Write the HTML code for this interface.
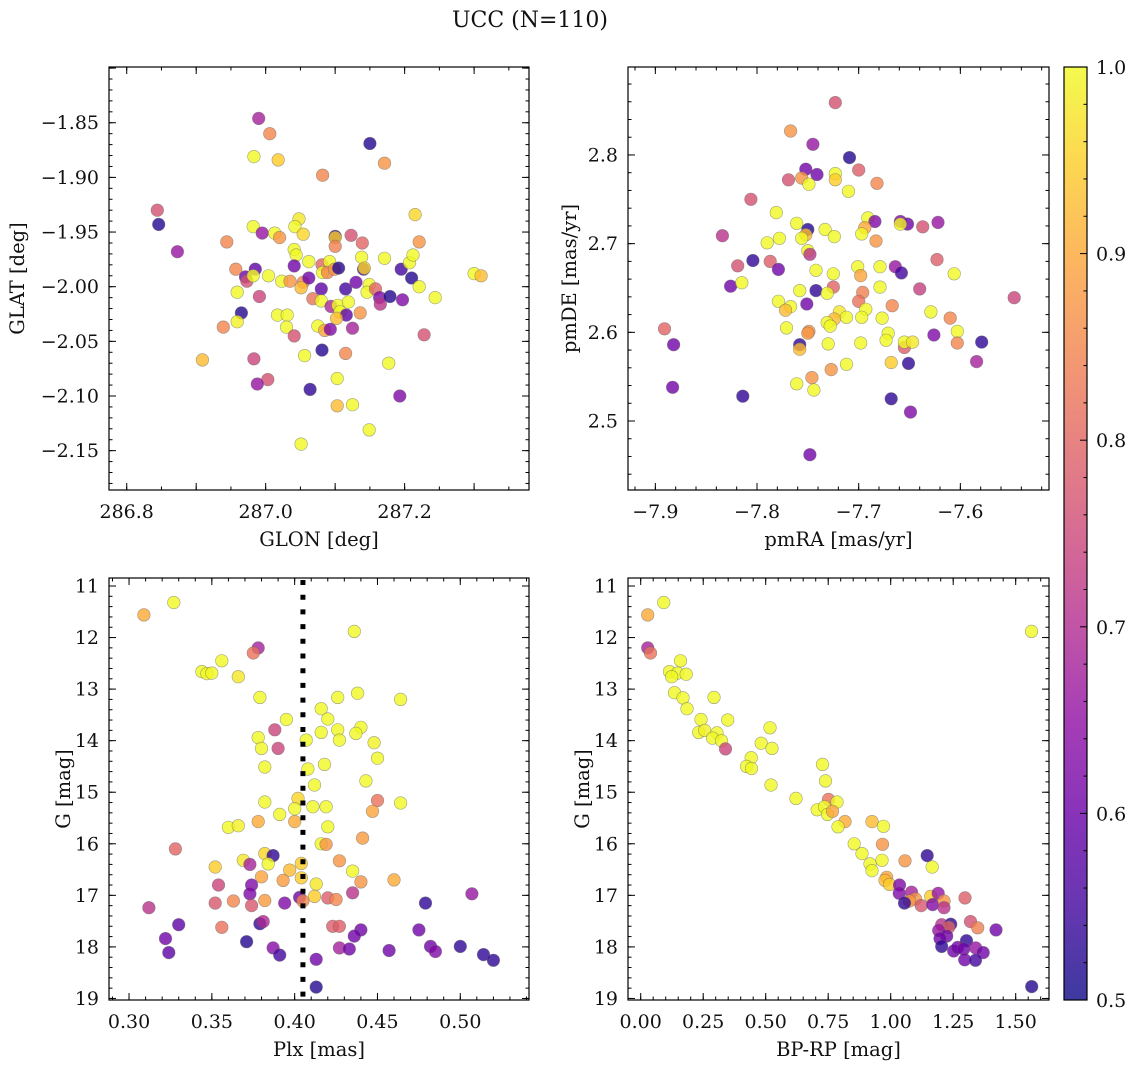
<!DOCTYPE html>
<html><head><meta charset="utf-8"><style>
html,body{margin:0;padding:0;background:#fff;}
svg{display:block;font-family:"DejaVu Serif","Liberation Serif",serif;}
</style></head><body>
<svg id="fig" xmlns="http://www.w3.org/2000/svg" width="1136" height="1067" viewBox="0 0 1136 1067">
<rect width="1136" height="1067" fill="#fff"/>
<text x="530" y="27" font-size="22" text-anchor="middle" fill="#111">UCC (N=110)</text>
</svg>
<script>
const tlGlon=[286.990,287.006,286.983,287.018,287.082,287.150,287.171,286.844,286.846,286.873,286.982,286.995,287.013,287.020,287.048,287.042,287.054,287.100,287.100,287.100,287.123,287.139,287.215,287.221,286.944,287.041,287.044,287.062,287.041,286.957,286.985,286.971,286.973,286.982,287.004,287.023,287.035,287.054,287.062,287.051,287.081,287.092,287.082,287.089,287.099,287.105,287.080,287.115,287.130,287.138,287.141,287.142,287.149,287.146,287.158,287.164,287.165,287.171,287.179,287.195,287.197,287.207,287.212,287.210,287.221,287.244,287.300,287.310,286.959,286.991,287.068,287.080,287.094,287.104,287.119,287.107,287.116,287.136,286.965,286.959,286.939,287.017,287.031,287.030,287.102,287.075,287.085,287.093,287.125,287.041,287.081,287.115,287.056,287.228,287.177,286.909,286.983,287.003,286.988,287.064,287.103,287.193,287.103,287.125,287.149,287.051];
const tlGlat=[-1.846,-1.860,-1.881,-1.884,-1.898,-1.869,-1.887,-1.930,-1.943,-1.968,-1.945,-1.951,-1.951,-1.955,-1.938,-1.945,-1.952,-1.954,-1.955,-1.963,-1.953,-1.960,-1.934,-1.959,-1.959,-1.966,-1.971,-1.977,-1.981,-1.984,-1.984,-1.991,-1.995,-1.990,-1.990,-1.995,-1.995,-1.996,-1.992,-2.001,-1.980,-1.977,-1.987,-1.987,-1.984,-1.983,-2.002,-2.002,-1.996,-1.973,-1.984,-1.983,-1.998,-2.005,-2.002,-2.010,-2.016,-1.974,-2.009,-1.984,-2.012,-1.978,-1.971,-1.992,-2.000,-2.010,-1.988,-1.990,-2.005,-2.009,-2.011,-2.013,-2.018,-2.017,-2.014,-2.023,-2.026,-2.024,-2.024,-2.032,-2.037,-2.026,-2.026,-2.037,-2.029,-2.036,-2.040,-2.039,-2.038,-2.045,-2.058,-2.061,-2.063,-2.044,-2.070,-2.067,-2.066,-2.085,-2.089,-2.094,-2.084,-2.100,-2.109,-2.108,-2.131,-2.144];
const tlProb=[.67,.83,.97,.92,.83,.52,.85,.75,.52,.65,.97,.65,.97,.85,.95,.97,.93,.52,.92,.82,.75,.78,.93,.85,.83,.97,.97,.97,.6,.83,.58,.6,.75,.97,.97,.97,.85,.83,.6,.9,.78,.97,.97,.83,.85,.52,.58,.55,.6,.97,.55,.93,.97,.97,.78,.62,.7,.97,.52,.55,.62,.97,.97,.52,.97,.97,.97,.9,.97,.73,.8,.97,.68,.97,.97,.97,.58,.85,.52,.96,.83,.97,.97,.97,.9,.97,.87,.62,.67,.75,.52,.83,.97,.75,.97,.9,.73,.75,.65,.53,.97,.62,.9,.97,.97,.97];

const trPmra=[-7.723,-7.767,-7.745,-7.709,-7.752,-7.741,-7.769,-7.756,-7.749,-7.723,-7.723,-7.700,-7.682,-7.710,-7.806,-7.781,-7.761,-7.750,-7.752,-7.756,-7.733,-7.724,-7.778,-7.790,-7.750,-7.748,-7.691,-7.684,-7.694,-7.697,-7.683,-7.659,-7.652,-7.659,-7.637,-7.622,-7.834,-7.804,-7.819,-7.787,-7.779,-7.826,-7.815,-7.742,-7.725,-7.701,-7.698,-7.679,-7.664,-7.658,-7.623,-7.606,-7.640,-7.547,-7.758,-7.742,-7.725,-7.731,-7.696,-7.700,-7.679,-7.779,-7.767,-7.751,-7.772,-7.693,-7.697,-7.719,-7.724,-7.712,-7.731,-7.728,-7.771,-7.749,-7.750,-7.667,-7.677,-7.629,-7.610,-7.603,-7.603,-7.579,-7.626,-7.671,-7.673,-7.655,-7.655,-7.647,-7.730,-7.698,-7.758,-7.758,-7.668,-7.651,-7.712,-7.727,-7.584,-7.891,-7.882,-7.883,-7.746,-7.761,-7.744,-7.814,-7.668,-7.649,-7.748];
const trPmde=[2.859,2.827,2.812,2.797,2.784,2.778,2.772,2.774,2.767,2.779,2.772,2.783,2.768,2.759,2.750,2.735,2.723,2.716,2.710,2.706,2.716,2.708,2.706,2.701,2.692,2.688,2.729,2.725,2.718,2.711,2.703,2.725,2.722,2.722,2.719,2.724,2.709,2.681,2.675,2.680,2.671,2.652,2.656,2.670,2.666,2.674,2.664,2.674,2.674,2.667,2.682,2.666,2.649,2.639,2.647,2.647,2.651,2.644,2.645,2.635,2.651,2.635,2.629,2.632,2.625,2.626,2.617,2.623,2.615,2.617,2.611,2.607,2.605,2.601,2.599,2.630,2.616,2.623,2.616,2.601,2.588,2.589,2.597,2.599,2.591,2.583,2.589,2.589,2.587,2.588,2.586,2.581,2.566,2.565,2.564,2.558,2.567,2.604,2.586,2.538,2.549,2.542,2.535,2.528,2.525,2.510,2.462];
const trProb=[.75,.85,.65,.52,.6,.6,.75,.85,.97,.97,.92,.77,.83,.97,.75,.97,.97,.52,.9,.97,.97,.97,.97,.97,.97,.7,.97,.62,.88,.97,.85,.62,.6,.97,.75,.65,.7,.53,.75,.77,.6,.6,.97,.97,.97,.97,.87,.97,.65,.55,.77,.97,.72,.73,.97,.53,.78,.97,.82,.8,.97,.97,.97,.6,.9,.97,.97,.95,.9,.97,.97,.97,.97,.85,.85,.83,.97,.97,.83,.97,.83,.53,.62,.97,.97,.77,.97,.95,.97,.97,.53,.9,.92,.53,.97,.85,.67,.78,.6,.6,.85,.97,.97,.53,.53,.62,.6];

const blPlx=[0.309,0.327,0.436,0.378,0.375,0.356,0.344,0.347,0.350,0.366,0.379,0.426,0.438,0.464,0.416,0.420,0.395,0.388,0.440,0.416,0.426,0.437,0.427,0.407,0.378,0.380,0.390,0.448,0.450,0.382,0.408,0.418,0.443,0.412,0.382,0.402,0.411,0.419,0.450,0.464,0.447,0.400,0.391,0.378,0.400,0.420,0.360,0.366,0.441,0.416,0.419,0.328,0.382,0.387,0.369,0.373,0.384,0.352,0.404,0.427,0.435,0.397,0.380,0.393,0.404,0.413,0.440,0.460,0.354,0.374,0.373,0.435,0.507,0.412,0.403,0.405,0.420,0.425,0.382,0.394,0.363,0.352,0.374,0.479,0.312,0.330,0.356,0.379,0.381,0.423,0.427,0.440,0.436,0.475,0.322,0.371,0.324,0.387,0.391,0.427,0.433,0.413,0.457,0.482,0.485,0.500,0.514,0.520,0.413];
const blG=[11.56,11.32,11.88,12.20,12.30,12.45,12.66,12.70,12.69,12.76,13.16,13.16,13.08,13.20,13.38,13.58,13.59,13.79,13.74,13.84,13.79,13.86,13.99,13.99,13.94,14.15,14.15,14.04,14.34,14.51,14.55,14.46,14.78,14.86,15.19,15.12,15.28,15.28,15.16,15.21,15.37,15.32,15.43,15.57,15.57,15.67,15.68,15.65,15.89,16.00,16.01,16.10,16.19,16.23,16.32,16.40,16.39,16.45,16.38,16.33,16.53,16.51,16.64,16.71,16.66,16.78,16.74,16.70,16.80,16.80,16.97,16.95,16.97,17.02,17.04,17.11,17.05,17.08,17.10,17.15,17.11,17.15,17.20,17.15,17.24,17.57,17.62,17.55,17.51,17.60,17.60,17.67,17.79,17.67,17.84,17.90,18.11,18.02,18.16,18.02,18.04,18.24,18.07,17.99,18.09,17.99,18.15,18.26,18.78];
const blProb=[.88,.97,.97,.67,.8,.97,.97,.97,.97,.95,.97,.97,.97,.97,.97,.97,.97,.73,.97,.97,.97,.97,.97,.97,.97,.97,.73,.96,.97,.97,.97,.97,.97,.97,.97,.93,.97,.97,.8,.97,.87,.97,.97,.88,.88,.97,.97,.96,.86,.97,.85,.78,.93,.53,.95,.67,.97,.92,.92,.85,.97,.9,.87,.86,.92,.95,.85,.88,.73,.62,.62,.7,.65,.92,.6,.83,.77,.83,.86,.62,.83,.76,.76,.53,.7,.58,.8,.53,.68,.77,.77,.6,.6,.6,.6,.52,.58,.63,.55,.67,.6,.6,.6,.6,.62,.53,.53,.53,.52];
const plxLine=[0.405];

const brBprp=[0.028,0.092,1.563,0.028,0.039,0.159,0.115,0.147,0.182,0.124,0.135,0.169,0.293,0.185,0.241,0.348,0.517,0.232,0.256,0.305,0.287,0.323,0.339,0.482,0.525,0.442,0.423,0.443,0.727,0.739,0.521,0.621,0.751,0.785,0.706,0.735,0.747,0.767,0.817,0.789,0.925,0.971,0.854,0.967,0.885,1.146,1.057,0.965,0.917,1.166,0.925,0.984,0.977,0.995,1.035,1.034,1.083,1.160,1.190,1.297,1.099,1.075,1.055,1.122,1.168,1.213,1.213,1.204,1.240,1.232,1.319,1.348,1.421,1.192,1.224,1.197,1.204,1.303,1.252,1.268,1.292,1.340,1.370,1.296,1.339,1.564];
const brG=[11.56,11.32,11.88,12.20,12.30,12.45,12.66,12.69,12.71,12.76,13.07,13.17,13.16,13.38,13.59,13.60,13.75,13.84,13.80,13.85,13.95,14.00,14.16,14.05,14.15,14.33,14.50,14.54,14.46,14.78,14.86,15.12,15.14,15.19,15.34,15.28,15.43,15.37,15.57,15.67,15.57,15.66,16.00,16.01,16.19,16.23,16.33,16.32,16.39,16.45,16.52,16.65,16.71,16.79,16.80,16.96,16.94,17.02,16.96,17.05,17.07,17.11,17.15,17.20,17.18,17.11,17.24,17.57,17.56,17.62,17.51,17.63,17.67,17.68,17.79,17.84,17.99,17.88,18.08,18.01,18.04,18.02,18.11,18.25,18.26,18.77];
const brProb=[.88,.97,.97,.67,.8,.97,.97,.97,.97,.97,.97,.97,.97,.97,.97,.97,.97,.97,.96,.97,.97,.97,.73,.97,.97,.97,.97,.97,.97,.97,.97,.97,.8,.97,.97,.97,.97,.87,.88,.97,.9,.97,.97,.85,.97,.53,.85,.97,.97,.97,.97,.87,.9,.92,.62,.62,.67,.92,.65,.77,.85,.85,.53,.76,.62,.85,.7,.7,.53,.78,.75,.82,.6,.65,.6,.6,.53,.53,.6,.6,.6,.65,.6,.6,.55,.52];

const cbTicks=[0.5,0.6,0.7,0.8,0.9,1.0];

const NS='http://www.w3.org/2000/svg';
const svg=document.getElementById('fig');
function mk(tag,attrs,parent){const e=document.createElementNS(NS,tag);for(const k in attrs)e.setAttribute(k,attrs[k]);(parent||svg).appendChild(e);return e;}
const stops=[[13,8,135],[65,4,157],[106,0,168],[143,13,164],[177,42,144],[204,71,120],[225,100,98],[242,132,75],[252,166,54],[252,206,37],[240,249,33]];
function plasma(t){t=Math.max(0,Math.min(1,t));const f=t*10,i=Math.min(9,Math.floor(f)),u=f-i;const a=stops[i],b=stops[i+1];return 'rgb('+a.map((v,k)=>Math.round(v+(b[k]-v)*u)).join(',')+')';}
function cnorm(p){return plasma(Math.min(1,(p-0.5)/0.47));}

function panel(o){
  const g=mk('g',{});
  
  
  const sx=v=>o.x0+(v-o.xlim[0])/(o.xlim[1]-o.xlim[0])*(o.x1-o.x0);
  const sy=v=>o.y1-(v-o.ylim[0])/(o.ylim[1]-o.ylim[0])*(o.y1-o.y0);
  const pts=mk('g',{},g);
  
  
  for(let i=0;i<o.xs.length;i++){
    const c=mk('circle',{cx:sx(o.xs[i]).toFixed(1),cy:sy(o.ys[i]).toFixed(1),r:6.3,fill:cnorm(o.ps[i]),'fill-opacity':0.8,stroke:'#666','stroke-opacity':0.6,'stroke-width':0.6},pts);
    
    
  }
  if(o.extra)o.extra(g,sx,sy);
  const ax=mk('g',{},g);
  
  
  const eps=1e-9;
  function ticksX(step,len){for(let v=Math.ceil(o.xlim[0]/step-eps)*step;v<=o.xlim[1]+eps;v+=step){const x=sx(v);if(x<o.x0+0.5||x>o.x1-0.5)continue;mk('line',{x1:x,x2:x,y1:o.y1,y2:o.y1-len,stroke:'#000','stroke-width':1},ax);mk('line',{x1:x,x2:x,y1:o.y0,y2:o.y0+len,stroke:'#000','stroke-width':1},ax);}}
  function ticksY(step,len){for(let v=Math.ceil(o.ylim[0]/step-eps)*step;v<=o.ylim[1]+eps;v+=step){const y=sy(v);if(y<o.y0+0.5||y>o.y1-0.5)continue;mk('line',{y1:y,y2:y,x1:o.x0,x2:o.x0+len,stroke:'#000','stroke-width':1},ax);mk('line',{y1:y,y2:y,x1:o.x1,x2:o.x1-len,stroke:'#000','stroke-width':1},ax);}}
  ticksX(o.xminor,3.5);ticksX(o.xmajor,7);ticksY(o.yminor,3.5);ticksY(o.ymajor,7);
  mk('rect',{x:o.x0,y:o.y0,width:o.x1-o.x0,height:o.y1-o.y0,fill:'none',stroke:'#000','stroke-width':1.2},ax);
  o.xlabels.forEach(v=>{const t=mk('text',{x:sx(v),y:o.y1+28,'font-size':19,'text-anchor':'middle',fill:'#111'},ax);t.textContent=o.xfmt(v);});
  o.ylabels.forEach(v=>{const t=mk('text',{x:o.x0-10,y:sy(v)+6.5,'font-size':19,'text-anchor':'end',fill:'#111'},ax);t.textContent=o.yfmt(v);});
  const xt=mk('text',{x:(o.x0+o.x1)/2,y:o.y1+56,'font-size':19.5,'text-anchor':'middle',fill:'#111'},ax);xt.textContent=o.xtitle;
  
  
  const yt=mk('text',{x:o.ytx,y:(o.y0+o.y1)/2,'font-size':19.5,'text-anchor':'middle',fill:'#111',transform:'rotate(-90 '+o.ytx+' '+((o.y0+o.y1)/2)+')'},ax);yt.textContent=o.ytitle;
  
  
}
const m=s=>s.replace('-','\u2212');
panel({name:'glon-glat-panel',x0:109,x1:529,y0:67,y1:490,xlim:[286.7745,287.379],ylim:[-2.186,-1.799],xs:tlGlon,ys:tlGlat,ps:tlProb,
  xmajor:0.1,xminor:0.05,ymajor:0.05,yminor:0.01,xlabels:[286.8,287.0,287.2],ylabels:[-2.15,-2.10,-2.05,-2.00,-1.95,-1.90,-1.85],
  xfmt:v=>v.toFixed(1),yfmt:v=>m(v.toFixed(2)),xtitle:'GLON [deg]',ytitle:'GLAT [deg]',ytx:24});
panel({name:'pm-panel',x0:628,x1:1049,y0:67,y1:490,xlim:[-7.9269,-7.5128],ylim:[2.4222,2.8992],xs:trPmra,ys:trPmde,ps:trProb,
  xmajor:0.1,xminor:0.02,ymajor:0.1,yminor:0.02,xlabels:[-7.9,-7.8,-7.7,-7.6],ylabels:[2.5,2.6,2.7,2.8],
  xfmt:v=>m(v.toFixed(1)),yfmt:v=>v.toFixed(1),xtitle:'pmRA [mas/yr]',ytitle:'pmDE [mas/yr]',ytx:576});
panel({name:'plx-g-panel',x0:109,x1:529,y0:578,y1:1000,xlim:[0.2879,0.5415],ylim:[-19.03,-10.845],xs:blPlx,ys:blG.map(v=>-v),ps:blProb,
  xmajor:0.05,xminor:0.01,ymajor:1,yminor:0.2,xlabels:[0.30,0.35,0.40,0.45,0.50],ylabels:[-19,-18,-17,-16,-15,-14,-13,-12,-11],
  xfmt:v=>v.toFixed(2),yfmt:v=>String(Math.round(-v)),xtitle:'Plx [mas]',ytitle:'G [mag]',ytx:70,
  extra:(g,sx,sy)=>{plxLine.forEach(v=>{const l=mk('line',{x1:sx(v),x2:sx(v),y1:580,y2:1000,stroke:'#000','stroke-width':5,'stroke-dasharray':'5 9.7'},g);});}});
panel({name:'cmd-panel',x0:628,x1:1049,y0:578,y1:1000,xlim:[-0.0508,1.6332],ylim:[-19.03,-10.845],xs:brBprp,ys:brG.map(v=>-v),ps:brProb,
  xmajor:0.25,xminor:0.05,ymajor:1,yminor:0.2,xlabels:[0,0.25,0.5,0.75,1.0,1.25,1.5],ylabels:[-19,-18,-17,-16,-15,-14,-13,-12,-11],
  xfmt:v=>v.toFixed(2),yfmt:v=>String(Math.round(-v)),xtitle:'BP-RP [mag]',ytitle:'G [mag]',ytx:589});

const cb=mk('g',{});


const defs=mk('defs',{},cb);
const lg=mk('linearGradient',{id:'cbg',x1:0,y1:1,x2:0,y2:0},defs);
for(let i=0;i<=20;i++)mk('stop',{offset:(i/20),'stop-color':plasma(i/20),'stop-opacity':0.8},lg);
const cx0=1064,cx1=1087,cy0=67,cy1=1000;
mk('rect',{x:cx0,y:cy0,width:cx1-cx0,height:cy1-cy0,fill:'url(#cbg)',stroke:'#000','stroke-width':1.2},cb);
const cby=v=>cy1-(v-0.5)/0.5*(cy1-cy0);
for(let k=0;k<=25;k++){const v=0.5+k*0.02;const y=cby(v);const major=k%5===0;if(k>0&&k<25)mk('line',{x1:cx1,x2:cx1-(major?7:3.5),y1:y,y2:y,stroke:'#000','stroke-width':1},cb);}
cbTicks.forEach(v=>{const t=mk('text',{x:1096,y:cby(v)+7,'font-size':19,fill:'#111'},cb);t.textContent=v.toFixed(1);});
</script>
</body></html>
